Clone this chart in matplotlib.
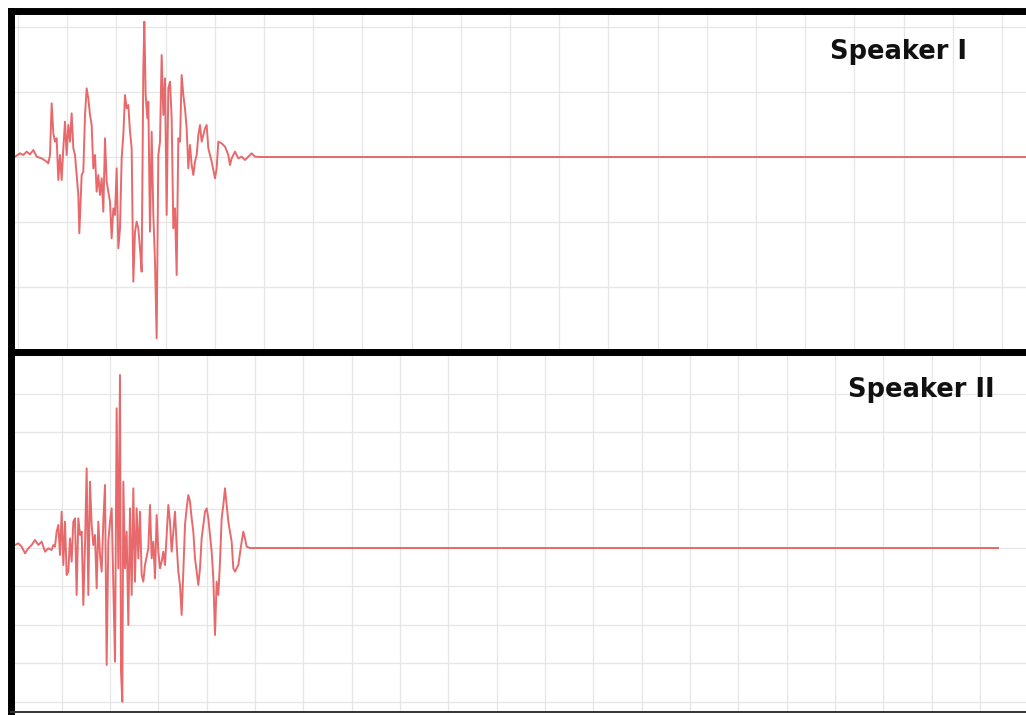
import numpy as np
import matplotlib
matplotlib.use('Agg')
import matplotlib.pyplot as plt

# Señal del hablante I (tiempo en muestras, amplitud en unidades arbitrarias)
tiempo_1 = [0, 15, 25, 35, 45, 55, 65, 80, 95, 100, 105, 110, 115, 120, 125, 130, 135, 140, 145, 150,
            155, 160, 165, 170, 175, 180, 190, 193, 200, 205, 210, 215, 220, 225, 230, 235, 240, 245, 250, 255,
            260, 265, 270, 275, 280, 285, 290, 295, 300, 305, 310, 315, 320, 325, 330, 335, 340, 345, 350, 355,
            360, 365, 370, 375, 380, 385, 388, 392, 397, 400, 405, 410, 415, 420, 425, 430, 435, 440, 445, 450,
            455, 460, 465, 470, 475, 480, 485, 490, 495, 500, 505, 510, 515, 520, 525, 530, 535, 540, 545, 550,
            555, 560, 565, 570, 575, 580, 590, 600, 605, 610, 620, 630, 640, 645, 650, 660, 670, 680, 690, 700,
            710, 720, 735, 3033]
amplitud_1 = [1, 11, 6, 16, 8, 21, 1, -4, -14, -19, 6, 161, 71, 46, 56, -69, 6, -69, 26, 106,
              6, 96, 46, 131, 26, 6, -114, -229, -54, -44, 126, 206, 176, 126, 96, -34, 6, -104, -54, -114,
              -64, -164, 56, -74, -104, -134, -244, -154, -174, -34, -274, -214, -4, 66, 186, 146, 156, 76, 26, -374,
              -224, -194, -214, -274, -344, 266, 406, 186, 116, 166, -224, 76, -174, -314, -544, 6, 46, 306, 126, 236,
              -174, 206, 226, 116, -214, -154, -354, 56, 46, 246, 186, 146, 86, -34, 36, -24, -54, -14, 6, 66,
              96, 46, 66, 86, 96, 26, -14, -64, -34, 46, 41, 31, 6, -24, -4, 16, -4, 1, -9, 1,
              11, 1, 0, 0]

# Señal del hablante II
tiempo_2 = [0, 10, 20, 30, 40, 50, 60, 70, 80, 90, 100, 110, 115, 120, 125, 130, 135, 140, 145, 150,
            155, 160, 165, 170, 175, 180, 185, 190, 195, 200, 205, 210, 215, 220, 225, 230, 235, 240, 245, 250,
            255, 260, 265, 270, 275, 280, 285, 290, 295, 300, 305, 310, 315, 318, 322, 325, 330, 335, 340, 345,
            350, 355, 360, 365, 370, 375, 380, 385, 390, 400, 405, 410, 415, 420, 425, 430, 435, 440, 445, 450,
            455, 460, 465, 470, 475, 480, 485, 490, 495, 500, 505, 510, 515, 520, 525, 530, 535, 540, 545, 550,
            555, 560, 565, 570, 575, 580, 585, 590, 595, 600, 605, 610, 615, 620, 625, 630, 635, 640, 650, 655,
            660, 670, 680, 685, 690, 695, 705, 2949]
amplitud_2 = [9, 14, 4, -16, -1, 9, 24, 9, 19, -11, -1, -6, 9, 4, 49, 69, -21, 109, -51, 79,
              -81, -71, 29, -41, 79, 89, -141, 89, 39, 49, -171, 9, 239, -141, 199, 69, 9, 39, -121, 79,
              -21, -71, 79, 189, -351, 19, 79, 119, -111, -341, 419, -61, 519, -371, -461, 199, -61, 49, -231, 119,
              -141, 179, -101, 119, -31, 109, -81, -101, -51, -1, 129, -31, 19, -91, 99, -11, -61, -41, -11, -51,
              39, 129, 79, -11, 49, 109, 9, -71, -111, -201, -71, 69, 119, 159, 139, 89, 49, -31, -71, -111,
              -61, 29, 69, 109, 119, 89, 39, -11, -91, -261, -101, -141, -41, 89, 129, 179, 129, 79, 19, -61,
              -71, -51, 19, 49, 29, 4, 0, 0]

etiquetas = ['Speaker I', 'Speaker II']

color_senal = '#e8696b'

fig = plt.figure(figsize=(10.26, 7.15), dpi=100)
fig.patch.set_facecolor('white')

# Panel superior
ax1 = fig.add_axes([0.0112, 0.5077, 0.9888, 0.4769])
ax1.plot(tiempo_1, amplitud_1, color=color_senal, linewidth=1.4)
ax1.set_xlim(-10.5, 3033)
ax1.set_ylim(-585, 438)
ax1.set_xticks([9 + 147.6 * k for k in range(21)])
ax1.set_yticks([195 * k for k in range(-3, 3)])

# Panel inferior
ax2 = fig.add_axes([0.0112, 0.0042, 0.9888, 0.5035])
ax2.plot(tiempo_2, amplitud_2, color=color_senal, linewidth=1.4)
ax2.set_xlim(-10.5, 3033)
ax2.set_ylim(-492, 588)
ax2.set_xticks([-5 + 145 * k for k in range(21)])
ax2.set_yticks([115.5 * k for k in range(-4, 6)])

for ax in [ax1, ax2]:
    ax.grid(True, color='#e6e6e6', linewidth=0.9)
    ax.set_axisbelow(True)
    ax.tick_params(length=0, labelbottom=False, labelleft=False)
    for s in ax.spines.values():
        s.set_capstyle('projecting')

# Bordes negros gruesos
ax1.spines['left'].set_linewidth(5)
ax1.spines['top'].set_linewidth(5)
ax1.spines['bottom'].set_linewidth(5)
ax1.spines['right'].set_visible(False)
ax2.spines['left'].set_linewidth(5)
ax2.spines['top'].set_visible(False)
ax2.spines['right'].set_visible(False)
ax2.spines['bottom'].set_linewidth(1.4)
ax2.spines['bottom'].set_color('#333333')
ax1.set_zorder(2)

fig.text(0.809, 0.927, etiquetas[0], fontsize=18.5, fontweight='bold', ha='left', va='center', color='#111111')
fig.text(0.8265, 0.4545, etiquetas[1], fontsize=18.5, fontweight='bold', ha='left', va='center', color='#111111')

plt.savefig('out.png', dpi=100)
